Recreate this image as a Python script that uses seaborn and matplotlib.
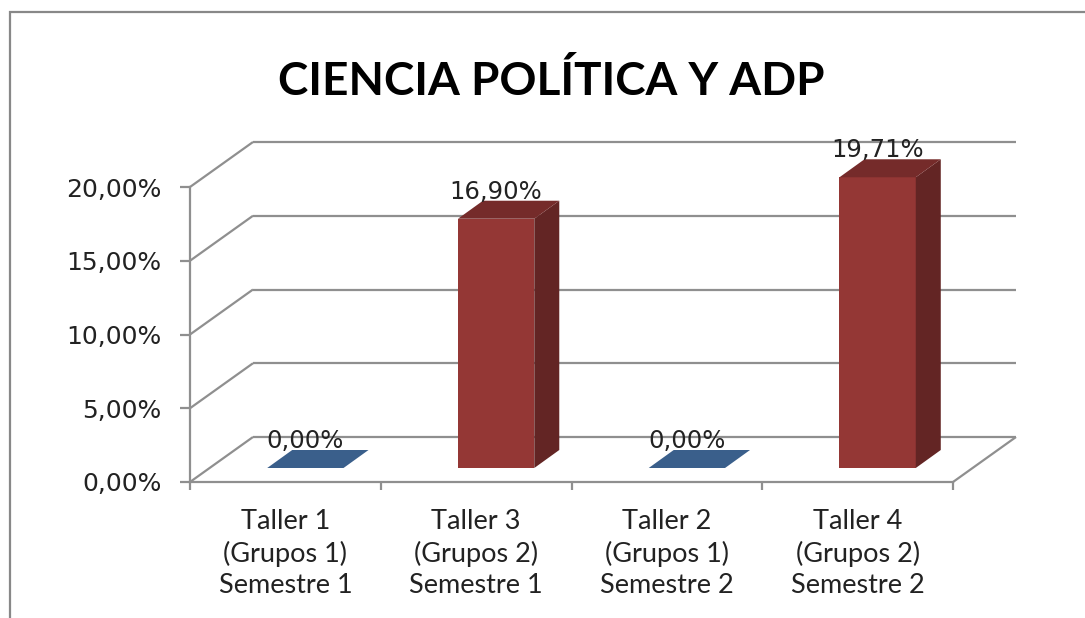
import numpy as np
import pandas as pd
import seaborn as sns
import matplotlib.pyplot as plt
from matplotlib.patches import Polygon, Rectangle
from matplotlib.lines import Line2D
from matplotlib.transforms import IdentityTransform, ScaledTranslation
from matplotlib.ticker import FuncFormatter
from matplotlib.colors import to_rgb

# Data
talleres = ['Taller 1\n(Grupos 1)\nSemestre 1',
            'Taller 3\n(Grupos 2)\nSemestre 1',
            'Taller 2\n(Grupos 1)\nSemestre 2',
            'Taller 4\n(Grupos 2)\nSemestre 2']
grupos = ['Grupos 1', 'Grupos 2', 'Grupos 1', 'Grupos 2']
porcentajes = [0.00, 16.90, 0.00, 19.71]
y_ticks = [0, 5, 10, 15, 20]
titulo = 'CIENCIA POLÍTICA Y ADP'

colores = {'Grupos 1': '#4a78b0', 'Grupos 2': '#943735'}
gris = '#8f8f8f'
texto = '#222222'

# fake 3d offsets in pixels (right, up)
FONDO = (63, 45)       # front plane -> back wall
BARRA_FRENTE = (20, 14)  # front plane -> bar front face
BARRA_PROF = (25, 18)    # bar depth


def pct(v, pos=None):
    return f'{v:.2f}%'.replace('.', ',')


def shade(c, f):
    r, g, b = to_rgb(c)
    return (r * f, g * f, b * f)


df = pd.DataFrame({'taller': talleres, 'grupo': grupos, 'valor': porcentajes})

sns.set_style('white')
W, H = 1085, 618
fig = plt.figure(figsize=(W / 100, H / 100), dpi=100)
ax = fig.add_axes([190 / W, (H - 482) / H, (953 - 190) / W, (482 - 187) / H])
ax.patch.set_visible(False)

sns.barplot(data=df, x='taller', y='valor', hue='grupo', palette=colores,
            width=0.4, dodge=False, saturation=1, legend=False, ax=ax, zorder=3)

ax.set_xlim(-0.5, 3.5)
ax.set_ylim(0, 20)
ax.set_yticks(y_ticks)
ax.yaxis.set_major_formatter(FuncFormatter(pct))
ax.set_xlabel('')
ax.set_ylabel('')
for s in ['top', 'right']:
    ax.spines[s].set_visible(False)
for s in ['left', 'bottom']:
    ax.spines[s].set_color(gris)
    ax.spines[s].set_linewidth(1.6)
    ax.spines[s].set_zorder(1)

ax.tick_params(axis='y', direction='out', length=7.5, width=1.6, color=gris,
               pad=13, labelsize=18, labelcolor=texto, left=True)
ax.tick_params(axis='x', which='major', length=0, pad=19.5, labelsize=19.5,
               labelcolor=texto)
ax.set_xticks(np.arange(-0.5, 4, 1), minor=True)
ax.tick_params(axis='x', which='minor', direction='out', length=5.5, width=1.6,
               color=gris, bottom=True)
for lab in ax.get_xticklabels():
    lab.set_fontfamily('Lato')
    lab.set_linespacing(1.3)


def px(x, y, off=(0, 0)):
    X, Y = ax.transData.transform((x, y))
    return (X + off[0], Y + off[1])


def add(a, z):
    ax.add_artist(a) if isinstance(a, Line2D) else ax.add_patch(a)
    a.set_transform(IdentityTransform())
    a.set_clip_on(False)
    a.set_zorder(z)


def linea(p, q):
    add(Line2D([p[0], q[0]], [p[1], q[1]], color=gris, lw=1.6,
               solid_capstyle='butt'), 1)


# walls and floor
x0, x1 = ax.get_xlim()
for k in y_ticks:
    a = px(x0, k)
    b = px(x0, k, FONDO)
    linea(a, b)
    linea(b, px(x1, k, FONDO))
linea(px(x1, 0), px(x1, 0, FONDO))

# bars with side and top faces
desp = ScaledTranslation(BARRA_FRENTE[0] / 100, BARRA_FRENTE[1] / 100,
                         fig.dpi_scale_trans)
for bar in list(ax.patches):
    bx, bw, bh = bar.get_x(), bar.get_width(), bar.get_height()
    col = bar.get_facecolor()
    bar.set_transform(ax.transData + desp)
    bar.set_clip_on(False)
    bar.set_edgecolor('none')
    f = BARRA_FRENTE
    d = (f[0] + BARRA_PROF[0], f[1] + BARRA_PROF[1])
    lado = [px(bx + bw, 0, f), px(bx + bw, bh, f), px(bx + bw, bh, d), px(bx + bw, 0, d)]
    tapa = [px(bx, bh, f), px(bx + bw, bh, f), px(bx + bw, bh, d), px(bx, bh, d)]
    if bh > 0:
        add(Polygon(lado, closed=True, facecolor=shade(col, 0.67), edgecolor='none'), 3)
    add(Polygon(tapa, closed=True, facecolor=shade(col, 0.79), edgecolor='none'), 3)
    ax.annotate(pct(bh), xy=(bx + bw / 2, bh), xycoords='data',
                xytext=(BARRA_FRENTE[0] * 0.72, (BARRA_FRENTE[1] + 20) * 0.72),
                textcoords='offset points', ha='center', va='baseline',
                fontsize=17.5, color=texto, zorder=5, annotation_clip=False)

fig.text(551 / W, (H - 95) / H, titulo, ha='center', va='baseline',
         fontsize=33, fontweight='bold', family='Lato', color='black')

fig.patches.append(Rectangle((10 / W, -0.1), 2, (H - 12) / H + 0.1, fill=False,
                             edgecolor='#888888', lw=1.6, transform=fig.transFigure,
                             figure=fig))

fig.savefig('out.png', dpi=100)
